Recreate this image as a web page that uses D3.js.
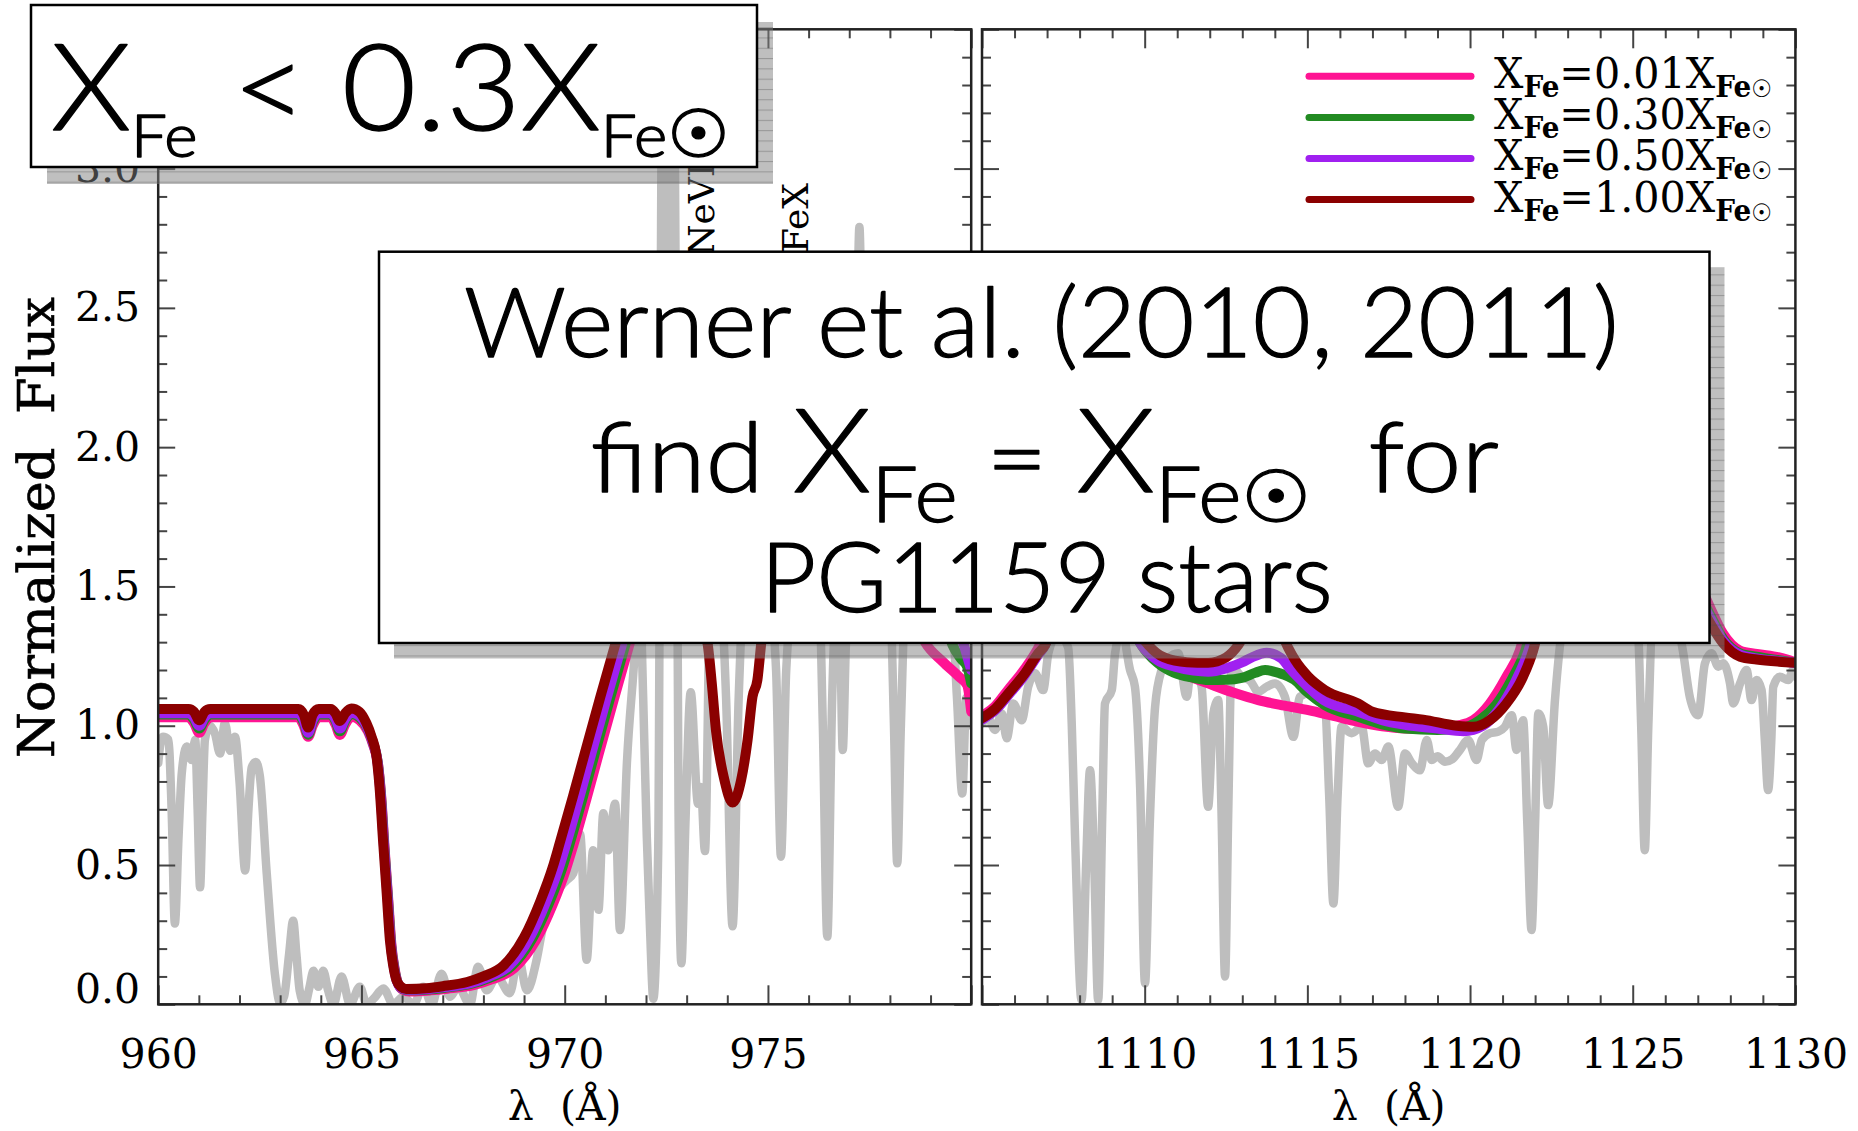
<!DOCTYPE html>
<html>
<head>
<meta charset="utf-8">
<script src="https://cdn.jsdelivr.net/npm/d3@7"></script>
<style>
  html, body { margin: 0; padding: 0; background: #fff; }
  svg { display: block; }
  text { white-space: pre; }
</style>
</head>
<body>
<svg id="chart" width="1858" height="1131"></svg>
<script>
// ---------------------------------------------------------------------------
// Spectra: [wavelength (Å), normalized flux]
// ---------------------------------------------------------------------------

// Observed spectrum, 960–980 Å window
const leftObserved = [
  [960.00,0.865],[960.05,0.93],[960.12,0.96],[960.25,0.95],[960.33,0.70],[960.41,0.29],[960.50,0.60],
  [960.58,0.83],[960.70,0.925],[960.82,0.877],[960.91,0.95],[960.97,0.70],[961.03,0.42],[961.09,0.70],
  [961.15,0.95],[961.27,1.00],[961.40,0.97],[961.52,0.90],[961.64,1.01],[961.77,0.91],[961.89,0.96],
  [962.00,0.80],[962.14,0.48],[962.22,0.70],[962.30,0.85],[962.40,0.87],[962.50,0.82],[962.67,0.47],
  [962.87,0.11],[963.00,0.005],[963.10,0.03],[963.22,0.18],[963.32,0.30],[963.40,0.18],[963.48,0.05],
  [963.61,0.00],[963.72,0.06],[963.82,0.12],[963.94,0.063],[964.06,0.12],[964.18,0.05],[964.31,0.00],
  [964.51,0.10],[964.72,0.00],[964.96,0.063],[965.13,0.00],[965.30,0.02],[965.54,0.057],[965.78,0.00],
  [966.03,0.027],[966.28,0.00],[966.52,0.063],[966.73,0.00],[966.97,0.11],[967.18,0.027],[967.38,0.063],
  [967.67,0.00],[967.87,0.135],[968.08,0.05],[968.33,0.10],[968.65,0.04],[968.86,0.17],[969.07,0.05],
  [969.31,0.16],[969.47,0.28],[969.64,0.34],[969.80,0.40],[970.05,0.446],[970.21,0.47],[970.38,0.61],
  [970.54,0.16],[970.70,0.553],[970.83,0.339],[970.95,0.686],[971.07,0.553],[971.24,0.72],[971.36,0.267],
  [971.53,0.865],[971.73,1.28],[971.83,1.55],[971.93,1.104],[972.02,0.60],[972.10,0.267],[972.18,0.02],
  [972.30,0.55],[972.40,3.30],[972.53,2.20],[972.70,3.30],[972.80,0.70],[972.87,0.147],[972.97,0.65],
  [973.10,1.12],[973.28,0.72],[973.35,0.78],[973.45,0.55],[973.60,1.60],[973.80,1.55],[973.97,1.10],
  [974.13,0.28],[974.28,1.10],[974.45,1.55],[975.00,1.50],[975.20,1.20],[975.32,0.53],[975.45,1.20],
  [975.70,1.55],[976.25,1.50],[976.35,1.00],[976.46,0.243],[976.58,1.10],[976.70,1.50],[976.78,1.30],
  [976.84,0.913],[976.92,1.30],[977.05,1.50],[977.15,1.90],[977.25,2.79],[977.35,1.90],[977.45,1.50],
  [978.00,1.45],[978.10,1.00],[978.18,0.506],[978.27,1.00],[978.40,1.50],[979.50,1.45],[979.65,1.10],
  [979.78,0.757],[979.88,1.10],[979.95,1.05],[980.00,1.00]
];

// Observed spectrum, 1105–1130 Å window
const rightObserved = [
  [1105.00,1.008],[1105.19,1.027],[1105.40,0.985],[1105.61,1.044],[1105.76,0.955],[1105.96,1.08],
  [1106.22,1.02],[1106.42,1.14],[1106.63,1.188],[1106.88,1.128],[1107.04,1.26],[1107.34,1.33],
  [1107.65,1.28],[1107.76,1.00],[1107.86,0.60],[1108.06,0.015],[1108.20,0.50],[1108.32,0.84],
  [1108.45,0.50],[1108.57,0.015],[1108.70,0.70],[1108.78,1.08],[1108.99,1.128],[1109.09,1.26],
  [1109.30,1.34],[1109.55,1.20],[1109.70,1.14],[1109.86,0.78],[1110.01,0.075],[1110.16,0.66],
  [1110.32,1.068],[1110.52,1.20],[1110.73,1.242],[1111.03,1.26],[1111.29,1.104],[1111.44,1.224],
  [1111.65,1.17],[1111.75,1.14],[1111.95,0.709],[1112.11,1.044],[1112.26,1.092],[1112.36,0.70],
  [1112.47,0.10],[1112.57,0.70],[1112.67,1.212],[1112.98,1.176],[1113.25,1.16],[1113.49,1.122],
  [1113.75,1.14],[1114.00,1.152],[1114.31,1.104],[1114.57,0.96],[1114.77,1.104],[1115.03,1.116],
  [1115.30,1.09],[1115.54,1.068],[1115.67,0.75],[1115.80,0.362],[1115.93,0.75],[1116.05,0.996],
  [1116.36,0.973],[1116.67,0.996],[1116.87,0.865],[1117.08,0.90],[1117.28,0.877],[1117.49,0.925],
  [1117.79,0.709],[1118.00,0.90],[1118.21,0.865],[1118.46,0.84],[1118.67,0.949],[1118.82,0.877],
  [1119.00,0.89],[1119.23,0.871],[1119.45,0.88],[1119.69,0.913],[1119.94,0.949],[1120.20,0.877],
  [1120.36,0.949],[1120.61,0.973],[1120.87,0.979],[1121.07,0.996],[1121.28,1.038],[1121.43,0.913],
  [1121.63,1.02],[1121.76,0.65],[1121.89,0.267],[1122.00,0.65],[1122.10,1.044],[1122.25,0.996],
  [1122.40,0.715],[1122.61,1.092],[1122.76,1.284],[1123.00,1.45],[1124.00,1.40],[1125.15,1.35],
  [1125.26,1.00],[1125.37,0.553],[1125.48,1.00],[1125.60,1.35],[1126.30,1.40],[1126.54,1.27],
  [1126.76,1.10],[1127.01,1.038],[1127.22,1.224],[1127.42,1.26],[1127.63,1.212],[1127.78,1.224],
  [1127.99,1.152],[1128.09,1.08],[1128.30,1.152],[1128.50,1.20],[1128.65,1.092],[1128.81,1.164],
  [1128.96,1.128],[1129.06,0.95],[1129.16,0.769],[1129.26,0.95],[1129.32,1.14],[1129.52,1.176],
  [1129.78,1.164],[1129.93,1.20],[1130.00,1.176]
];

// Model spectra, 960–980 Å, one per iron abundance
const leftFe001 = [
  [960.00,1.03],[960.75,1.03],[960.88,1.01],[961.01,0.975],[961.14,1.01],[961.28,1.03],[963.45,1.03],
  [963.58,1.00],[963.69,0.96],[963.80,1.00],[963.95,1.03],[964.25,1.03],[964.36,1.005],[964.47,0.967],
  [964.60,1.005],[964.75,1.032],[964.95,1.02],[965.16,0.98],[965.29,0.93],[965.41,0.86],[965.49,0.74],
  [965.57,0.56],[965.66,0.375],[965.74,0.21],[965.82,0.125],[965.90,0.075],[966.02,0.052],[966.18,0.046],
  [966.70,0.05],[967.12,0.056],[967.78,0.07],[968.22,0.09],[968.76,0.13],[969.29,0.23],[969.71,0.36],
  [970.02,0.48],[970.21,0.57],[970.53,0.735],[970.83,0.895],[971.20,1.09],[971.57,1.28],[971.93,1.47],
  [972.70,1.75],[973.30,1.85],[974.50,1.92],[976.00,2.00],[977.30,1.85],[978.20,1.55],[978.88,1.296],
  [979.30,1.23],[979.70,1.176],[979.90,1.146],[980.00,1.05]
];
const leftFe030 = [
  [960.00,1.04],[960.75,1.04],[960.88,1.022],[961.01,0.99],[961.14,1.022],[961.28,1.04],[963.45,1.04],
  [963.58,1.012],[963.69,0.968],[963.80,1.012],[963.95,1.04],[964.25,1.04],[964.36,1.018],[964.47,0.98],
  [964.60,1.018],[964.75,1.042],[964.95,1.03],[965.15,0.99],[965.28,0.94],[965.40,0.87],[965.48,0.75],
  [965.56,0.57],[965.65,0.385],[965.73,0.215],[965.81,0.128],[965.89,0.078],[966.01,0.055],[966.16,0.05],
  [966.67,0.053],[967.08,0.06],[967.73,0.075],[968.15,0.095],[968.68,0.135],[969.20,0.235],[969.62,0.365],
  [969.93,0.485],[970.12,0.575],[970.44,0.74],[970.74,0.90],[971.11,1.095],[971.48,1.285],[971.84,1.475],
  [972.50,1.68],[973.00,1.74],[974.00,1.78],[975.00,1.82],[976.50,1.90],[977.50,1.85],[978.50,1.65],
  [979.30,1.40],[979.54,1.29],[979.75,1.24],[979.90,1.212],[980.00,1.152]
];
const leftFe050 = [
  [960.00,1.045],[960.75,1.045],[960.88,1.03],[961.01,1.00],[961.14,1.03],[961.28,1.045],[963.45,1.045],
  [963.58,1.02],[963.69,0.975],[963.80,1.02],[963.95,1.045],[964.25,1.045],[964.36,1.025],[964.47,0.99],
  [964.60,1.025],[964.75,1.047],[964.95,1.035],[965.14,0.995],[965.27,0.945],[965.39,0.875],[965.47,0.755],
  [965.55,0.575],[965.64,0.39],[965.72,0.22],[965.80,0.13],[965.88,0.08],[966.00,0.057],[966.15,0.052],
  [966.65,0.055],[967.05,0.062],[967.70,0.077],[968.10,0.097],[968.62,0.137],[969.13,0.237],[969.54,0.367],
  [969.85,0.487],[970.04,0.577],[970.36,0.742],[970.66,0.902],[971.03,1.097],[971.40,1.287],[971.76,1.477],
  [972.50,1.70],[973.00,1.76],[974.00,1.80],[975.00,1.85],[976.50,1.95],[977.50,1.90],[978.50,1.70],
  [979.30,1.45],[979.82,1.29],[979.92,1.24],[980.00,1.20]
];
const leftFe100 = [
  [960.00,1.06],[960.75,1.06],[960.88,1.05],[961.01,1.02],[961.14,1.05],[961.28,1.06],[963.45,1.06],
  [963.58,1.04],[963.69,0.994],[963.80,1.04],[963.95,1.06],[964.25,1.06],[964.36,1.045],[964.47,1.017],
  [964.60,1.045],[964.75,1.062],[964.95,1.05],[965.12,1.01],[965.25,0.96],[965.37,0.89],[965.45,0.77],
  [965.53,0.59],[965.62,0.40],[965.70,0.23],[965.78,0.14],[965.86,0.087],[965.98,0.062],[966.10,0.055],
  [966.60,0.058],[967.00,0.065],[967.60,0.08],[968.00,0.10],[968.50,0.14],[969.00,0.24],[969.40,0.37],
  [969.70,0.49],[969.88,0.58],[970.20,0.745],[970.50,0.905],[970.87,1.10],[971.24,1.29],[971.60,1.48],
  [972.20,1.66],[972.80,1.64],[973.15,1.48],[973.38,1.36],[973.52,1.29],[973.62,1.15],[973.72,0.985],
  [973.93,0.805],[974.13,0.724],[974.34,0.805],[974.50,0.95],[974.62,1.104],[974.74,1.164],[974.83,1.29],
  [974.95,1.45],[975.50,1.75],[976.50,1.95],[977.50,2.00],[978.50,1.85],[979.30,1.65],[980.00,1.45]
];

// Model spectra, 1105–1130 Å
const rightFe001 = [
  [1105.00,1.035],[1105.40,1.07],[1105.81,1.13],[1106.32,1.205],[1106.73,1.28],[1106.90,1.32],[1107.30,1.45],
  [1107.80,1.62],[1108.40,1.68],[1109.00,1.57],[1109.50,1.40],[1109.90,1.30],[1110.20,1.255],[1110.52,1.224],
  [1111.20,1.185],[1111.95,1.152],[1112.70,1.12],[1113.49,1.092],[1114.30,1.072],[1115.03,1.056],
  [1115.80,1.035],[1116.56,1.014],[1117.30,0.998],[1118.00,0.99],[1119.00,0.988],[1119.59,1.00],
  [1120.10,1.02],[1120.61,1.08],[1121.12,1.176],[1121.53,1.27],[1121.90,1.45],[1123.00,1.85],
  [1124.00,2.00],[1125.00,1.95],[1126.00,1.76],[1126.80,1.58],[1127.37,1.427],[1127.78,1.33],
  [1128.30,1.27],[1128.81,1.258],[1129.50,1.245],[1130.00,1.228]
];
const rightFe030 = [
  [1105.00,1.024],[1105.40,1.057],[1105.81,1.113],[1106.32,1.186],[1106.73,1.258],[1106.94,1.29],
  [1107.30,1.43],[1107.80,1.60],[1108.40,1.66],[1109.00,1.56],[1109.50,1.38],[1109.90,1.29],[1110.40,1.225],
  [1110.90,1.19],[1111.50,1.172],[1111.95,1.164],[1112.50,1.165],[1112.98,1.172],[1113.40,1.19],
  [1113.70,1.20],[1114.10,1.19],[1114.60,1.165],[1115.00,1.12],[1115.54,1.074],[1116.56,1.032],
  [1117.30,1.005],[1118.00,0.99],[1119.00,0.985],[1119.70,0.99],[1120.30,1.02],[1120.80,1.075],
  [1121.30,1.17],[1121.70,1.27],[1122.10,1.45],[1123.00,1.80],[1124.00,1.98],[1125.00,1.93],
  [1126.00,1.74],[1126.80,1.54],[1127.37,1.40],[1127.78,1.312],[1128.30,1.26],[1128.81,1.248],
  [1129.50,1.235],[1130.00,1.226]
];
const rightFe050 = [
  [1105.00,1.022],[1105.40,1.055],[1105.81,1.11],[1106.32,1.183],[1106.73,1.255],[1106.94,1.29],
  [1107.30,1.43],[1107.80,1.60],[1108.40,1.66],[1109.00,1.56],[1109.50,1.38],[1109.90,1.29],[1110.40,1.235],
  [1110.93,1.212],[1111.50,1.198],[1111.95,1.194],[1112.50,1.206],[1113.00,1.228],[1113.29,1.245],
  [1113.75,1.262],[1114.20,1.242],[1114.50,1.20],[1114.80,1.164],[1115.50,1.092],[1116.56,1.05],
  [1117.30,1.02],[1118.00,1.003],[1119.00,0.99],[1119.80,0.98],[1120.40,1.00],[1120.90,1.06],
  [1121.40,1.16],[1121.80,1.27],[1122.20,1.45],[1123.00,1.78],[1124.00,1.97],[1125.00,1.92],
  [1126.00,1.72],[1126.80,1.52],[1127.37,1.39],[1127.78,1.305],[1128.30,1.255],[1128.81,1.242],
  [1129.50,1.232],[1130.00,1.225]
];
const rightFe100 = [
  [1105.00,1.027],[1105.40,1.06],[1105.81,1.116],[1106.32,1.188],[1106.73,1.26],[1106.94,1.29],
  [1107.30,1.42],[1107.80,1.58],[1108.40,1.64],[1109.00,1.55],[1109.60,1.38],[1110.11,1.29],
  [1110.60,1.245],[1111.30,1.228],[1111.95,1.226],[1112.50,1.245],[1112.88,1.29],[1113.30,1.38],
  [1113.70,1.42],[1114.10,1.36],[1114.41,1.28],[1114.62,1.236],[1115.03,1.176],[1115.54,1.128],
  [1116.56,1.08],[1117.00,1.05],[1118.00,1.03],[1118.56,1.022],[1119.59,1.00],[1120.10,0.996],
  [1120.61,1.02],[1121.12,1.08],[1121.63,1.176],[1121.94,1.27],[1122.30,1.45],[1123.00,1.75],
  [1124.00,1.95],[1125.00,1.90],[1126.00,1.70],[1126.80,1.50],[1127.37,1.37],[1127.78,1.296],
  [1128.30,1.248],[1128.81,1.238],[1129.50,1.23],[1130.00,1.226]
];

// Legend labels (abundance relative to solar) and series colours
const abundanceLabels = ["0.01", "0.30", "0.50", "1.00"];
const seriesColors = ["#ff1493", "#228b22", "#a020f0", "#8b0000"];

// Axis ticks
const leftTickLabels = [960, 965, 970, 975];
const rightTickLabels = [1110, 1115, 1120, 1125, 1130];
const fluxTickLabels = [0, 0.5, 1.0, 1.5, 2.0, 2.5, 3.0];

// Line identifications above the spectrum
const lineIds = [
  { label: "NeVII", wave: 973.33 },
  { label: "FeX", wave: 975.64 }
];

// ---------------------------------------------------------------------------
const svg = d3.select("#chart");
const SERIF = "'DejaVu Serif', serif";
const SANS = "Lato, 'Open Sans', sans-serif";

const yScale = d3.scaleLinear().domain([0, 3.5]).range([1004.3, 29.3]);

const panels = [
  {
    key: "left",
    x: d3.scaleLinear().domain([960, 980]).range([158.2, 971.2]),
    observed: leftObserved,
    models: [leftFe001, leftFe030, leftFe050, leftFe100],
    labels: leftTickLabels,
    showFlux: true
  },
  {
    key: "right",
    x: d3.scaleLinear().domain([1105, 1130]).range([982, 1795.4]),
    observed: rightObserved,
    models: [rightFe001, rightFe030, rightFe050, rightFe100],
    labels: rightTickLabels,
    showFlux: false
  }
];

const defs = svg.append("defs");

// Shadow fill: translucent grey with faint horizontal rules
const pat = defs.append("pattern")
  .attr("id", "shade")
  .attr("patternUnits", "userSpaceOnUse")
  .attr("width", 8).attr("height", 10.3);
pat.append("rect").attr("width", 8).attr("height", 10.3).attr("fill", "rgba(128,128,128,0.5)");
pat.append("line").attr("x1", 0).attr("x2", 8).attr("y1", 7.1).attr("y2", 7.1)
  .attr("stroke", "rgba(70,70,70,0.35)").attr("stroke-width", 1);

panels.forEach(p => {
  const [x0, x1] = p.x.range();
  const [yb, yt] = yScale.range();
  defs.append("clipPath").attr("id", "clip-" + p.key)
    .append("rect").attr("x", x0).attr("y", yt).attr("width", x1 - x0).attr("height", yb - yt);

  const g = svg.append("g").attr("class", "panel-" + p.key);
  const plot = g.append("g").attr("clip-path", `url(#clip-${p.key})`);

  const line = d3.line()
    .x(d => p.x(d[0]))
    .y(d => yScale(d[1]))
    .curve(d3.curveMonotoneX);

  plot.append("path")
    .datum(p.observed)
    .attr("d", line)
    .attr("fill", "none")
    .attr("stroke", "#bebebe")
    .attr("stroke-width", 8.5)
    .attr("stroke-linejoin", "round")
    .attr("stroke-linecap", "round");

  p.models.forEach((m, i) => {
    plot.append("path")
      .datum(m)
      .attr("d", line)
      .attr("fill", "none")
      .attr("stroke", seriesColors[i])
      .attr("stroke-width", 10)
      .attr("stroke-linejoin", "round")
      .attr("stroke-linecap", "round");
  });

  // Axes: inward ticks on all four sides
  const [d0, d1] = p.x.domain();
  const majors = d3.range(d0, d1 + 0.01, 5);
  const minors = d3.range(d0, d1 + 0.01, 1).filter(v => !majors.includes(v));
  const fluxMajors = d3.range(0, 3.51, 0.5);
  const fluxMinors = d3.range(0, 3.51, 0.1).filter(v => Math.abs(v * 2 - Math.round(v * 2)) > 1e-6);

  const axes = g.append("g").attr("class", "axes");
  const bottom = axes.append("g").attr("transform", `translate(0,${yb})`);
  bottom.append("g").call(d3.axisBottom(p.x).tickValues(minors).tickSize(-9).tickFormat(""));
  bottom.append("g").call(d3.axisBottom(p.x).tickValues(majors).tickSize(-19).tickPadding(34.6)
    .tickFormat(d => p.labels.includes(d) ? d3.format("d")(d) : ""));
  const top = axes.append("g").attr("transform", `translate(0,${yt})`);
  top.append("g").call(d3.axisTop(p.x).tickValues(minors).tickSize(-9).tickFormat(""));
  top.append("g").call(d3.axisTop(p.x).tickValues(majors).tickSize(-19).tickFormat(""));
  const left = axes.append("g").attr("transform", `translate(${x0},0)`);
  left.append("g").call(d3.axisLeft(yScale).tickValues(fluxMinors).tickSize(-9).tickFormat(""));
  left.append("g").call(d3.axisLeft(yScale).tickValues(fluxMajors).tickSize(-17).tickPadding(18)
    .tickFormat(d => (p.showFlux && fluxTickLabels.some(v => Math.abs(v - d) < 1e-6)) ? d3.format(".1f")(d) : ""));
  const right = axes.append("g").attr("transform", `translate(${x1},0)`);
  right.append("g").call(d3.axisRight(yScale).tickValues(fluxMinors).tickSize(-9).tickFormat(""));
  right.append("g").call(d3.axisRight(yScale).tickValues(fluxMajors).tickSize(-17).tickFormat(""));

  axes.selectAll(".domain").remove();
  axes.selectAll(".tick line").attr("stroke", "#444").attr("stroke-width", 2);
  axes.selectAll(".tick text")
    .attr("font-family", SERIF).attr("font-size", 41).attr("fill", "#000");
  // lowest flux label sits just above the bottom frame
  left.selectAll(".tick text").filter(d => Math.abs(d) < 1e-6).attr("y", -15);

  g.append("rect")
    .attr("x", x0).attr("y", yt).attr("width", x1 - x0).attr("height", yb - yt)
    .attr("fill", "none").attr("stroke", "#222").attr("stroke-width", 2.5);

  g.append("text")
    .attr("x", (x0 + x1) / 2).attr("y", 1120)
    .attr("text-anchor", "middle")
    .attr("font-family", SERIF).attr("font-size", 41)
    .text("λ  (Å)");
});

// Y-axis title
svg.append("text")
  .attr("transform", "translate(54,527.5) rotate(-90)")
  .attr("text-anchor", "middle")
  .attr("font-family", SERIF).attr("font-size", 50)
  .attr("stroke", "#000").attr("stroke-width", 0.6)
  .attr("textLength", 461).attr("lengthAdjust", "spacingAndGlyphs")
  .text("Normalized  Flux");

// Line identifications (vertical labels)
const xLeft = panels[0].x;
svg.selectAll("text.lineid")
  .data(lineIds)
  .join("text")
  .attr("class", "lineid")
  .attr("transform", (d, i) => `translate(${xLeft(d.wave) + 14},${i === 0 ? 256 : 253}) rotate(-90)`)
  .attr("font-family", SERIF).attr("font-size", 36)
  .text(d => d.label);

// Legend
const legend = svg.append("g").attr("class", "legend");
abundanceLabels.forEach((lab, i) => {
  const base = 88.3 + i * 41.1;
  legend.append("line")
    .attr("x1", 1309).attr("x2", 1471)
    .attr("y1", base - 12).attr("y2", base - 12)
    .attr("stroke", seriesColors[i]).attr("stroke-width", 7).attr("stroke-linecap", "round");
  fitLine(legend, [
    { text: "X", size: 43 },
    { text: "Fe", size: 29, dy: 9, weight: "bold" },
    { text: "=" + lab + "X", size: 43, dy: -9 },
    { text: "Fe", size: 29, dy: 9, weight: "bold" },
    { text: "☉", size: 24, family: "'DejaVu Sans', sans-serif" }
  ], 1494, 1772, base, SERIF);
});

// Annotation boxes with drop shadows
function shadowBox(x, y, w, h, off) {
  svg.append("rect").attr("x", x + off[0]).attr("y", y + off[1]).attr("width", w).attr("height", h)
    .attr("fill", "url(#shade)");
  svg.append("rect").attr("x", x).attr("y", y).attr("width", w).attr("height", h)
    .attr("fill", "#fff").attr("stroke", "#000").attr("stroke-width", 2.5);
}

function fitLine(parent, parts, left, right, baseline, family, weight, thicken) {
  const t = parent.append("text")
    .attr("class", "fit")
    .attr("x", 0).attr("y", baseline)
    .attr("font-family", family).attr("fill", "#000")
    .datum({ left, right });
  if (weight) t.attr("font-weight", weight);
  if (thicken) t.attr("stroke", "#000").attr("stroke-width", thicken).attr("stroke-linejoin", "round");
  parts.forEach(p => {
    const s = t.append("tspan").attr("font-size", p.size).text(p.text);
    if (p.dy) s.attr("dy", p.dy);
    if (p.family) s.attr("font-family", p.family);
    if (p.weight) s.attr("font-weight", p.weight);
  });
  return t;
}

shadowBox(31, 5, 726, 162, [16, 17]);
fitLine(svg, [
  { text: "X", size: 121 },
  { text: "Fe", size: 60, dy: 27 },
  { text: " < 0.3X", size: 121, dy: -27 },
  { text: "Fe", size: 60, dy: 27 },
  { text: "☉", size: 66, family: "'DejaVu Sans', sans-serif" }
], 51, 730, 130, SANS, 300, 1.4);

shadowBox(379, 251.7, 1330.5, 391.3, [15, 15.5]);
fitLine(svg, [{ text: "Werner et al. (2010, 2011)", size: 97 }], 464, 1619, 356.7, SANS, 300, 1.3);
fitLine(svg, [
  { text: "find ", size: 97 },
  { text: "X", size: 116 },
  { text: "Fe", size: 76, dy: 30 },
  { text: " = ", size: 97, dy: -30 },
  { text: "X", size: 116 },
  { text: "Fe", size: 76, dy: 30 },
  { text: "☉", size: 72, family: "'DejaVu Sans', sans-serif" },
  { text: "  for", size: 97, dy: -30 }
], 590.6, 1500, 491.7, SANS, 300, 1.3);
fitLine(svg, [{ text: "PG1159 stars", size: 97 }], 760.5, 1332.7, 611.7, SANS, 300, 1.3);

// Stretch each composed line to its measured span
function fitAll() {
  svg.selectAll("text.fit").each(function (d) {
    const sel = d3.select(this).attr("transform", null);
    const bb = this.getBBox();
    const s = (d.right - d.left) / bb.width;
    sel.attr("transform", `translate(${d.left - bb.x * s},0) scale(${s},1)`);
  });
}
fitAll();
if (document.fonts && document.fonts.ready) document.fonts.ready.then(fitAll);
</script>
</body>
</html>
